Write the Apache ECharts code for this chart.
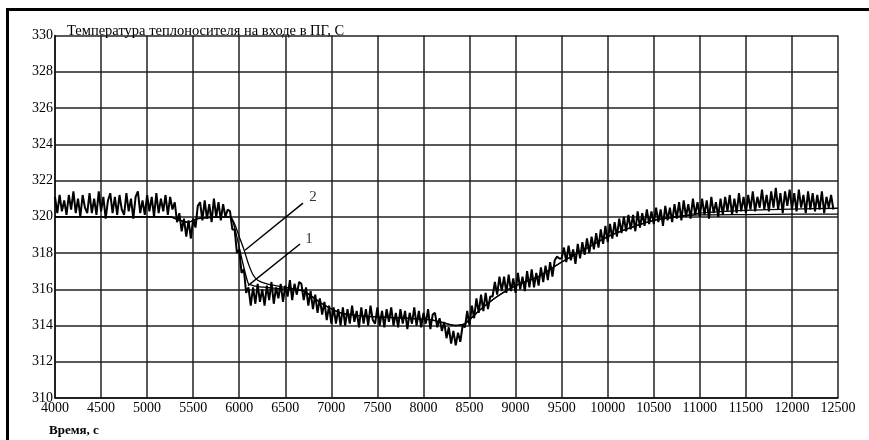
<!DOCTYPE html>
<html><head><meta charset="utf-8">
<script src="https://cdn.jsdelivr.net/npm/echarts@6/dist/echarts.min.js"></script>
<style>html,body{margin:0;padding:0;background:#fff}#c{width:869px;height:440px}</style>
</head><body><div id="c"></div><script>
// Axes
const xMin = 4000, xMax = 12500, xStep = 500;
const yMin = 310, yMax = 330, yStep = 2;
const yTitle = 'Температура теплоносителя на входе в ПГ, С';
const xTitle = 'Время, с';

// Measured (noisy) temperature, sampled every 25 s, by segment start time
const measuredStep = 25;
const measuredSegments = [
  {start: 4000, values: [
    321.1,320.2,321.2,320.3,320.9,320.1,321.2,320.4,
    321.4,320.2,321.0,320.0,321.2,320.5,320.2,321.3,
    320.2,321.0,320.1,321.4,320.3,321.1,319.9,320.9,
    321.3,320.2,321.1,320.1,321.2,320.4,320.1,321.3,
    320.3,321.0,319.9,321.1,321.4,320.2,320.9,320.1,
    321.2,320.3,321.1,320.0,321.3,320.2,321.0,320.3,
    321.2,320.1,321.1,320.4]},
  {start: 5300, values: [320.8,319.7,320.2,319.2,319.9,318.9,319.8,318.8,319.9,319.4,320.6]},
  {start: 5575, values: [320.8,319.8,320.9,319.9,320.7,319.7,321.0,320.0,320.8,319.8,320.7,320.0,320.4]},
  {start: 5900, values: [320.3,319.3,319.3,318.0,318.2,316.9,317.1,315.8,316.1,315.1]},
  {start: 6150, values: [316.1,315.2,316.3,315.3,316.0,315.1,316.2,315.4,316.4,315.2,316.1,315.5,316.3,315.3,316.2,315.6,316.5,315.4,316.3,315.7,316.4]},
  {start: 6675, values: [316.3,315.4,316.1,315.1,315.9,314.9,315.7,314.7,315.5,314.6,315.3,314.3,315.1,314.1,315.0,314.1,314.9,314.0]},
  {start: 7125, values: [
    315.0,314.0,314.9,314.1,315.1,314.2,314.8,313.9,
    315.0,314.1,314.9,314.0,315.1,314.3,314.1,315.0,
    314.0,314.8,313.9,314.9,314.2,315.0,314.0,314.7,
    313.9,314.9,314.1,314.8,313.8,314.7,314.1,315.0,
    314.0,314.8,313.9,314.7,314.1,314.9,313.8,314.6,
    314.7,313.9]},
  {start: 8175, values: [314.4,313.7,314.2,313.3,313.9,313.0,313.7,312.9,313.6,313.1,314.0,313.9]},
  {start: 8475, values: [314.8,314.0,315.1,314.4,315.5,314.7,315.7,314.8,315.8,314.9,315.6,315.6,316.4,315.7,316.7,315.9]},
  {start: 8875, values: [316.7,315.8,316.8,315.9,316.6,315.8,316.9,316.0,316.7,315.9,317.0,316.1]},
  {start: 9175, values: [317.1,316.1,316.9,316.2,317.2,316.4,317.3,316.5,317.5,316.7,317.6]},
  {start: 9450, values: [317.8,317.7,317.7,318.3,317.5,318.4,317.6,318.2,317.4,318.5,317.7,318.6]},
  {start: 9750, values: [317.9,318.8,318.0,318.9,318.2,319.1,318.3,319.3,318.5,319.5]},
  {start: 10000, values: [318.6,319.6,318.8,319.7,318.9,319.9,319.1,320.0,319.2,320.1]},
  {start: 10250, values: [319.3,320.1,319.2,320.3,319.4,320.2,319.5,320.4,319.6,320.3]},
  {start: 10500, values: [319.6,320.5,319.7,320.4,319.5,320.6,319.8,320.5,319.7,320.7]},
  {start: 10750, values: [319.9,320.8,319.8,320.9,320.0,320.7,319.9,321.0,320.1,320.8]},
  {start: 11000, values: [320.0,321.0,320.1,320.9,319.9,321.1,320.2,320.8,320.0,321.0]},
  {start: 11250, values: [320.1,321.1,320.3,321.2,320.1,321.0,320.2,321.3,320.3,321.1]},
  {start: 11500, values: [320.2,321.2,320.4,321.4,320.3,321.1,320.5,321.5,320.4,321.2]},
  {start: 11750, values: [320.3,321.4,320.5,321.6,320.4,321.3,320.2,321.4,320.6,321.5]},
  {start: 12000, values: [320.4,321.3,320.3,321.5,320.5,321.2,320.2,321.4,320.4,321.3]},
  {start: 12250, values: [320.3,321.2,320.4,321.4,320.2,321.1,320.5,321.2,320.4]}
];

// Calculated curves 1 and 2
const modelTime = [4000,5250,5350,5450,5550,5900,5950,6000,6050,6100,6150,6200,6300,6500,6700,6900,7100,7400,7800,8100,8250,8350,8450,8600,8800,9000,9250,9500,9750,10000,10250,10500,10750,11000,11500,12000,12500];
const model1 =    [320.0,320.0,319.8,319.7,319.9,320.0,319.4,318.3,317.2,316.3,316.2,316.15,316.1,316.0,315.9,315.2,314.7,314.5,314.4,314.3,314.1,314.0,314.1,314.8,315.6,316.2,316.7,317.5,318.2,318.9,319.4,319.8,320.0,320.2,320.35,320.42,320.47];
const model2 =    [320.0,320.0,319.8,319.7,319.9,320.0,319.6,318.9,318.2,317.4,316.8,316.5,316.3,316.1,315.9,315.2,314.7,314.5,314.4,314.3,314.1,314.0,314.1,314.8,315.6,316.2,316.7,317.5,318.2,318.9,319.4,319.8,320.0,320.1,320.12,320.14,320.15];

// Leader lines and their labels
const leader1 = [[6095, 316.2], [6660, 318.5]];
const leader2 = [[6062, 318.15], [6692, 320.75]];
const curveLabels = [[6757, 318.75, '1'], [6800, 321.1, '2']];

const measured = [];
measuredSegments.forEach(s => s.values.forEach((v, i) => measured.push([s.start + i * measuredStep, v])));
const pairs = (ts, vs) => ts.map((t, i) => [t, vs[i]]);

const font = 'Liberation Serif';
const chart = echarts.init(document.getElementById('c'), null, {renderer: 'canvas'});
chart.setOption({
  animation: false,
  backgroundColor: '#fff',
  grid: {left: 55, right: 31, top: 35.5, bottom: 42},
  title: [
    {text: yTitle, left: 62, top: 19, textStyle: {fontFamily: font, fontSize: 14.5, fontWeight: 'normal', color: '#000'}},
    {text: xTitle, left: 44, top: 419, textStyle: {fontFamily: font, fontSize: 13, fontWeight: 'bold', color: '#000'}}
  ],
  graphic: [
    {type: 'line', shape: {x1: 6, y1: 9.5, x2: 869, y2: 9.5}, style: {stroke: '#000', lineWidth: 3}},
    {type: 'line', shape: {x1: 7.5, y1: 8, x2: 7.5, y2: 440}, style: {stroke: '#000', lineWidth: 3}}
  ],
  xAxis: {
    type: 'value', min: xMin, max: xMax, interval: xStep,
    axisLine: {show: true, lineStyle: {color: '#111', width: 1.5}},
    axisTick: {show: false},
    axisLabel: {fontFamily: font, fontSize: 14, color: '#000', margin: 3, formatter: v => String(v)},
    splitLine: {show: true, lineStyle: {color: '#222', width: 1.5}}
  },
  yAxis: {
    type: 'value', min: yMin, max: yMax, interval: yStep,
    axisLine: {show: true, lineStyle: {color: '#111', width: 1.5}},
    axisTick: {show: false},
    axisLabel: {fontFamily: font, fontSize: 14, color: '#000', margin: 2, formatter: v => String(v)},
    splitLine: {show: true, lineStyle: {color: '#222', width: 1.5}}
  },
  series: [
    {type: 'line', data: measured, symbol: 'none', lineStyle: {color: '#000', width: 2}, z: 3},
    {type: 'line', data: pairs(modelTime, model1), symbol: 'none', smooth: 0.2, lineStyle: {color: '#000', width: 1.3}, z: 4},
    {type: 'line', data: pairs(modelTime, model2), symbol: 'none', smooth: 0.2, lineStyle: {color: '#000', width: 1.3}, z: 4},
    {type: 'line', data: leader1, symbol: 'none', lineStyle: {color: '#000', width: 1.4}, z: 5},
    {type: 'line', data: leader2, symbol: 'none', lineStyle: {color: '#000', width: 1.4}, z: 5},
    {type: 'scatter', data: curveLabels, symbolSize: 1, itemStyle: {color: 'rgba(0,0,0,0)'},
     label: {show: true, position: 'inside', formatter: p => p.data[2], fontFamily: font, fontSize: 15, color: '#000'}, z: 6}
  ]
});
</script></body></html>
